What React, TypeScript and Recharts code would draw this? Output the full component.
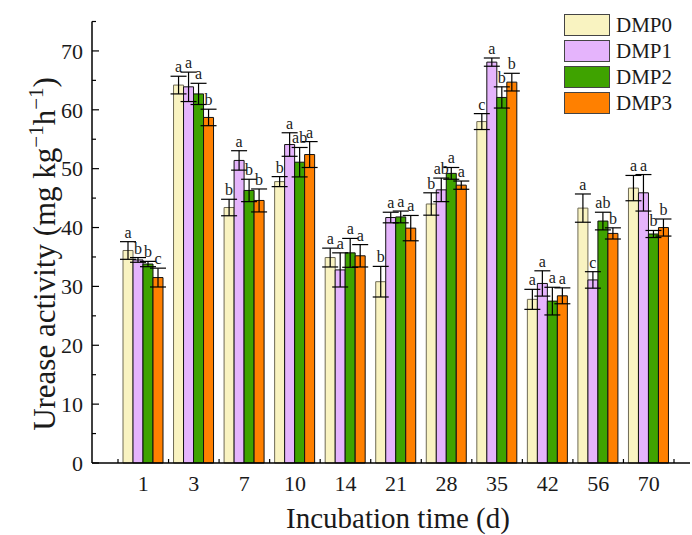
import React from 'react';
import { BarChart, Bar, XAxis, YAxis, ErrorBar, LabelList, Legend } from 'recharts';

const SERIF = '"Liberation Serif", "Times New Roman", serif';

const days = ['1', '3', '7', '10', '14', '21', '28', '35', '42', '56', '70'];
const seriesNames = ['DMP0', 'DMP1', 'DMP2', 'DMP3'];
const seriesColors = ['#F9F3C1', '#E5B4FC', '#3FA300', '#FF8000'];
const seriesStrokes = ['#6E6A55', '#111111', '#111111', '#111111'];

const dmp0 = [36.1, 64.2, 43.4, 47.8, 34.9, 30.8, 44.0, 58.0, 27.8, 43.3, 46.7];
const dmp1 = [34.5, 63.9, 51.4, 54.1, 32.8, 41.7, 46.4, 68.1, 30.5, 31.1, 45.9];
const dmp2 = [33.8, 62.7, 46.3, 51.1, 35.7, 41.8, 49.2, 62.1, 27.5, 41.1, 38.9];
const dmp3 = [31.5, 58.7, 44.6, 52.4, 35.2, 39.9, 47.2, 64.7, 28.4, 39.0, 40.0];

const err0 = [1.5, 1.5, 1.4, 0.85, 1.6, 2.6, 1.9, 1.35, 1.7, 2.4, 2.15];
const err1 = [0.4, 2.5, 1.65, 2.0, 2.9, 0.9, 2.0, 0.7, 2.15, 1.4, 3.1];
const err2 = [0.45, 1.8, 1.9, 2.5, 2.45, 1.0, 1.0, 1.8, 2.35, 1.5, 0.6];
const err3 = [1.6, 1.4, 1.95, 2.2, 1.9, 2.15, 0.7, 1.5, 1.35, 0.95, 1.45];

const let0 = ['a', 'a', 'b', 'b', 'a', 'b', 'b', 'c', 'a', 'a', 'a'];
const let1 = ['b', 'a', 'a', 'a', 'a', 'a', 'ab', 'a', 'a', 'c', 'a'];
const let2 = ['b', 'a', 'b', 'ab', 'a', 'a', 'a', 'b', 'a', 'ab', 'b'];
const let3 = ['c', 'b', 'b', 'a', 'a', 'a', 'a', 'b', 'a', 'b', 'b'];

const yTicks = [0, 5, 10, 15, 20, 25, 30, 35, 40, 45, 50, 55, 60, 65, 70, 75];

const errs = [err0, err1, err2, err3];
const letters = [let0, let1, let2, let3];

const data = days.map((d, i) => ({
  day: d,
  d0: dmp0[i], d1: dmp1[i], d2: dmp2[i], d3: dmp3[i],
  e0: err0[i], e1: err1[i], e2: err2[i], e3: err3[i],
}));

const makeLetterLabel = (lets: string[], es: number[]) => (props: any) => {
  const vb = props.viewBox && props.viewBox.width != null ? props.viewBox : props;
  const x = Number(vb.x);
  const y = Number(vb.y);
  const width = Number(vb.width);
  const height = Math.abs(Number(vb.height));
  const index = props.index;
  const value = Number(props.value);
  if (index == null || !isFinite(x)) return null;
  const ppu = value ? height / value : 0;
  const ty = y - es[index] * ppu - 4;
  return (
    <text x={x + width / 2} y={ty} textAnchor="middle" fontSize={16} fontFamily={SERIF} fill="#1a1a1a">
      {lets[index]}
    </text>
  );
};

const YTick = (props: any) => {
  const { x, y, payload } = props;
  const v = payload.value;
  const major = v % 10 === 0;
  return (
    <g>
      <line x1={x} y1={y} x2={x + (major ? 7 : 4)} y2={y} stroke="#000" strokeWidth={1.2} />
      {major && v <= 70 ? (
        <text x={x - 9} y={y} dy="0.35em" textAnchor="end" fontSize={22} fontFamily={SERIF} fill="#1a1a1a">
          {v}
        </text>
      ) : null}
    </g>
  );
};

const XTick = (props: any) => {
  const { x, y, payload, index } = props;
  const off = payload && payload.offset ? payload.offset : 25.3;
  const last = index === days.length - 1;
  return (
    <g>
      <line x1={x - off} y1={y} x2={x - off} y2={y - 4} stroke="#000" strokeWidth={1.2} />
      {last ? <line x1={x + off} y1={y} x2={x + off} y2={y - 4} stroke="#000" strokeWidth={1.2} /> : null}
      <text x={x} y={y + 28} textAnchor="middle" fontSize={22} fontFamily={SERIF} fill="#1a1a1a">
        {payload.value}
      </text>
    </g>
  );
};

const YTitle = (props: any) => {
  const cx = 55;
  const cy = 254;
  return (
    <text
      transform={`rotate(-90, ${cx}, ${cy})`}
      x={cx}
      y={cy}
      textAnchor="middle"
      fontSize={31}
      fontFamily={SERIF}
      fill="#1a1a1a"
    >
      Urease activity (mg kg
      <tspan dy={-12} fontSize={21}>−1</tspan>
      <tspan dy={12}>h</tspan>
      <tspan dy={-12} fontSize={21}>−1</tspan>
      <tspan dy={12}>)</tspan>
    </text>
  );
};

const XTitle = (props: any) => (
  <text x={398} y={528} textAnchor="middle" fontSize={29} fontFamily={SERIF} fill="#1a1a1a">
    Incubation time (d)
  </text>
);

const renderLegend = (props: any) => {
  const payload = props.payload || [];
  return (
    <div style={{ fontFamily: SERIF }}>
      {payload.map((p: any, i: number) => {
        const idx = seriesNames.indexOf(p.value);
        return (
          <div key={i} style={{ display: 'flex', alignItems: 'center', height: 26 }}>
            <div
              style={{
                width: 44,
                height: 20,
                background: seriesColors[idx],
                border: '1px solid #444',
                boxSizing: 'content-box',
              }}
            />
            <span style={{ marginLeft: 6, fontSize: 21, color: '#1a1a1a', lineHeight: '22px' }}>{p.value}</span>
          </div>
        );
      })}
    </div>
  );
};

export default function App() {
  return (
    <div style={{ position: 'absolute', left: 0, top: 0, width: 692, height: 535, background: '#fff' }}>
      <BarChart
        width={692}
        height={535}
        data={data}
        margin={{ top: 21.5, right: 2, bottom: 0, left: 0 }}
        barGap={0}
        barSize={10}
      >
        <XAxis
          dataKey="day"
          height={72}
          padding={{ left: 26, right: 16 }}
          tickSize={0}
          tickMargin={0}
          tickLine={false}
          interval={0}
          axisLine={{ stroke: '#000', strokeWidth: 1.5 }}
          tick={<XTick />}
          label={{ content: <XTitle /> }}
        />
        <YAxis
          type="number"
          domain={[0, 75]}
          ticks={yTicks}
          interval={0}
          width={92}
          tickSize={0}
          tickMargin={0}
          tickLine={false}
          axisLine={{ stroke: '#000', strokeWidth: 1.5 }}
          tick={<YTick />}
          label={{ content: <YTitle /> }}
        />
        <Legend
          layout="vertical"
          align="center"
          verticalAlign="middle"
          content={renderLegend}
          wrapperStyle={{ position: 'absolute', left: 564, top: 12, width: 120, height: 110 }}
        />
        {seriesNames.map((name, s) => (
          <Bar
            key={name}
            dataKey={`d${s}`}
            name={name}
            fill={seriesColors[s]}
            stroke={seriesStrokes[s]}
            strokeWidth={1}
            isAnimationActive={false}
          >
            <ErrorBar dataKey={`e${s}`} width={8} stroke="#000" strokeWidth={1.2} direction="y" isAnimationActive={false} />
            <LabelList dataKey={`d${s}`} content={makeLetterLabel(letters[s], errs[s])} />
          </Bar>
        ))}
      </BarChart>
    </div>
  );
}
